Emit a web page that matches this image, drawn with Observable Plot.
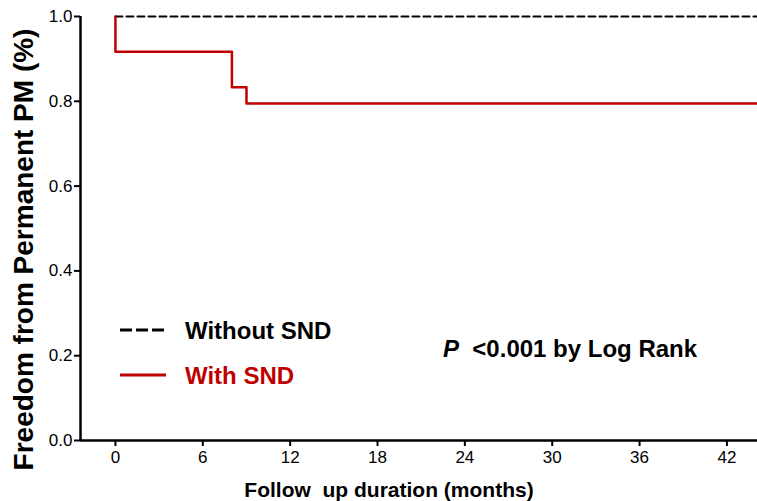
<!DOCTYPE html>
<html>
<head>
<meta charset="utf-8">
<script src="https://cdn.jsdelivr.net/npm/d3@7"></script>
<script src="https://cdn.jsdelivr.net/npm/@observablehq/plot@0.6"></script>
<style>
  body { margin: 0; background: #fff; }
  #wrap { position: relative; width: 757px; height: 501px; font-family: Arial, "Liberation Sans", sans-serif; }
  .leg { position: absolute; font-weight: bold; white-space: nowrap; line-height: 1; }
</style>
</head>
<body>
<div id="wrap"></div>
<script>
// Data
const withSNDTime = [0, 0, 8, 9, 44.1];
const withSNDSurv = [1, 0.917, 0.833, 0.795, 0.795];
const withoutSNDTime = [0, 44.1];
const withoutSNDSurv = [1, 1];
const xTicks = [0, 6, 12, 18, 24, 30, 36, 42];
const yTicks = [0, 0.2, 0.4, 0.6, 0.8, 1.0];
const xDomain = [-2.4, 44.1];
const seriesNames = ["Without SND", "With SND"];
const seriesColors = ["#000000", "#c00000"];
const xLabel = "Follow  up duration (months)";
const yLabel = "Freedom from Permanent PM (%)";
const pText = "<0.001 by Log Rank";

const withSND = withSNDTime.map((t, i) => ({t, s: withSNDSurv[i]}));
const withoutSND = withoutSNDTime.map((t, i) => ({t, s: withoutSNDSurv[i]}));

const plot = Plot.plot({
  width: 757, height: 501,
  marginLeft: 80, marginRight: 0, marginTop: 16, marginBottom: 61,
  x: {domain: xDomain},
  y: {domain: [0, 1]},
  style: {fontFamily: "Arial, 'Liberation Sans', sans-serif", fontSize: "17px", color: "#000", background: "white"},
  marks: [
    Plot.axisX({ticks: xTicks, tickSize: 6, tickPadding: 4, strokeWidth: 2, fontSize: 17, label: null}),
    Plot.axisY({ticks: yTicks, tickSize: 6, tickPadding: 2, tickFormat: d3.format(".1f"), strokeWidth: 2, fontSize: 17, label: null}),
    Plot.ruleY([0], {strokeWidth: 2.5}),
    Plot.ruleX([xDomain[0]], {strokeWidth: 2.5}),
    Plot.line(withoutSND, {x: "t", y: "s", stroke: seriesColors[0], strokeDasharray: "7,4", strokeWidth: 2}),
    Plot.line(withSND, {x: "t", y: "s", curve: "step-after", stroke: seriesColors[1], strokeWidth: 2.5}),
    Plot.text([yLabel], {frameAnchor: "left", textAnchor: "middle", rotate: -90, dx: -56, dy: 21, fontWeight: "bold", fontSize: 28}),
    Plot.text([xLabel], {frameAnchor: "bottom", textAnchor: "middle", lineAnchor: "middle", dy: 50, dx: -30, fontWeight: "bold", fontSize: 21})
  ]
});

const wrap = document.getElementById("wrap");
wrap.appendChild(plot);

// Legend overlay
function legendRow(name, color, dashed, center) {
  const sw = document.createElementNS("http://www.w3.org/2000/svg", "svg");
  sw.setAttribute("width", 50); sw.setAttribute("height", 8);
  sw.style.position = "absolute"; sw.style.left = "119px"; sw.style.top = (center - 4) + "px";
  const ln = document.createElementNS("http://www.w3.org/2000/svg", "line");
  ln.setAttribute("x1", 1); ln.setAttribute("x2", 47); ln.setAttribute("y1", 4); ln.setAttribute("y2", 4);
  ln.setAttribute("stroke", color); ln.setAttribute("stroke-width", 3);
  if (dashed) ln.setAttribute("stroke-dasharray", "12,4");
  sw.appendChild(ln);
  wrap.appendChild(sw);
  const tx = document.createElement("div");
  tx.className = "leg"; tx.textContent = name; tx.style.color = color;
  tx.style.fontSize = "24px"; tx.style.left = "185px"; tx.style.top = (center - 11) + "px";
  wrap.appendChild(tx);
}
legendRow(seriesNames[0], seriesColors[0], true, 330);
legendRow(seriesNames[1], seriesColors[1], false, 375);

const p = document.createElement("div");
p.className = "leg"; p.style.fontSize = "24px"; p.style.left = "443px"; p.style.top = "337px";
p.innerHTML = "<i>P</i>&nbsp; " + pText.replace("<", "&lt;");
wrap.appendChild(p);
</script>
</body>
</html>
